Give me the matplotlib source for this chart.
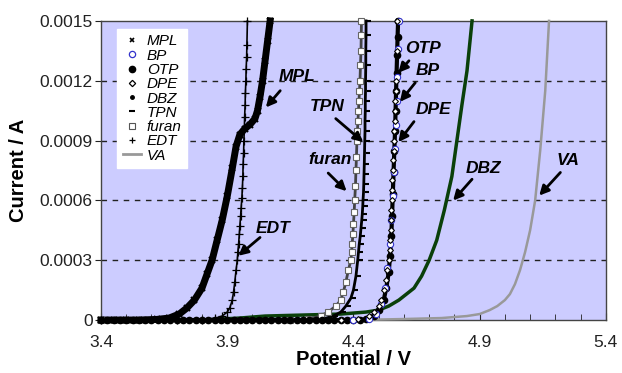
#Curvas de corriente vs potencial para los distintos monomeros

import numpy as np
import matplotlib.pyplot as plt
from matplotlib.lines import Line2D

plt.rcParams['font.family'] = ['Liberation Sans', 'DejaVu Sans']

#Datos (potencial en V, corriente en A)
vMPL = [3.40,3.45,3.50,3.55,3.62,3.67,3.71,3.74,3.77,3.80,3.82,3.84,3.86,3.88,3.90,3.92,3.935,3.95,3.97,3.99,4.01,4.02,4.03,4.04,4.05,4.06,4.07]
iMPL = [0,0,0,0,0.000003,0.00001,0.00003,0.00006,0.0001,0.00016,0.00023,0.0003,0.0004,0.0005,0.00062,0.00076,0.00087,0.00093,0.00096,0.00098,0.00101,0.00105,0.00112,0.0012,0.0013,0.0014,0.0015]

vEDT = [3.40,3.70,3.80,3.85,3.88,3.90,3.91,3.92,3.925,3.93,3.935,3.94,3.942,3.945,3.948,3.95,3.953,3.955,3.958,3.96,3.962,3.963,3.965,3.966,3.968,3.969,3.971,3.972,3.974,3.975,3.977,3.978,3.98]
iEDT = [0,0,0.000002,0.000008,0.00002,0.00004,0.00006,0.0001,0.00014,0.00019,0.00025,0.0003,0.00034,0.00038,0.00043,0.00047,0.00052,0.00056,0.00061,0.00066,0.00072,0.00078,0.00084,0.0009,0.00096,0.00102,0.00108,0.00114,0.0012,0.00126,0.00132,0.00138,0.0015]

vTPN = [3.40,4.20,4.28,4.32,4.35,4.37,4.39,4.40,4.41,4.417,4.42,4.423,4.427,4.43,4.433,4.435,4.437,4.438,4.44,4.441,4.442,4.443,4.444,4.445,4.446,4.446,4.447,4.447,4.448,4.448,4.449,4.449,4.45,4.45]
iTPN = [0,0,0.000005,0.00002,0.00004,0.00007,0.00011,0.00015,0.00022,0.0003,0.00034,0.00038,0.00042,0.00046,0.0005,0.00053,0.00057,0.0006,0.00064,0.00068,0.00073,0.00078,0.00084,0.0009,0.00095,0.001,0.00105,0.0011,0.00115,0.0012,0.00128,0.00135,0.00143,0.0015]

vFuran = [3.40,4.15,4.22,4.27,4.30,4.33,4.35,4.36,4.37,4.38,4.39,4.393,4.395,4.398,4.40,4.403,4.405,4.408,4.41,4.412,4.414,4.416,4.418,4.42,4.422,4.424,4.426,4.428,4.43,4.431,4.432]
iFuran = [0,0,0.000005,0.00002,0.00004,0.00007,0.0001,0.00014,0.00019,0.00025,0.0003,0.00034,0.00038,0.00043,0.00048,0.00054,0.0006,0.00067,0.00075,0.00082,0.0009,0.00095,0.001,0.00105,0.0011,0.00115,0.0012,0.00128,0.00135,0.00143,0.0015]

vDPE = [4.35,4.42,4.46,4.48,4.50,4.51,4.52,4.53,4.535,4.54,4.543,4.545,4.547,4.548,4.55,4.551,4.553,4.554,4.556,4.557,4.559,4.56,4.562,4.563,4.565,4.566,4.568,4.569,4.571,4.572]
iDPE = [0,0.000005,0.00002,0.00004,0.00007,0.0001,0.00015,0.0002,0.00025,0.0003,0.00035,0.0004,0.00045,0.0005,0.00055,0.0006,0.00065,0.0007,0.00075,0.0008,0.00085,0.0009,0.00095,0.001,0.00105,0.0011,0.00115,0.0012,0.00135,0.0015]

vOTP = [3.40,3.425,3.45,3.475,3.50,3.525,3.55,3.575,3.60,3.625,3.65,3.675,3.70,3.725,3.75,3.775,3.80,3.825,3.85,3.875,3.90,3.925,3.95,3.975,4.00,4.025,4.05,4.075,4.10,4.125,4.15,4.175,4.20,4.225,4.25,4.275,4.30,4.325,4.35,4.375,4.40,4.425,4.45,
        4.48,4.50,4.52,4.53,4.54,4.545,4.55,4.553,4.556,4.559,4.562,4.565,4.567,4.569,4.571,4.573,4.575,4.577]
iOTP = [0,0,0,0,0,0,0,0,0,0,0,0,0,0,0,0,0,0,0,0,0,0,0,0,0,0,0,0,0,0,0,0,0,0,0,0,0,0,0,0,0,0,0.000003,
        0.00002,0.00005,0.0001,0.00016,0.00024,0.00032,0.00042,0.00052,0.00063,0.00074,0.00085,0.00095,0.00105,0.00115,0.00124,0.00133,0.00142,0.0015]

vBP = [4.40,4.46,4.49,4.51,4.525,4.535,4.543,4.55,4.555,4.56,4.564,4.568,4.571,4.574,4.577,4.58]
iBP = [0,0.000005,0.00003,0.00008,0.00016,0.00026,0.00038,0.0005,0.00062,0.00074,0.00086,0.00098,0.0011,0.00122,0.00136,0.0015]

vDBZ = [3.40,3.80,3.95,4.05,4.20,4.35,4.45,4.50,4.54,4.58,4.61,4.64,4.67,4.70,4.73,4.76,4.79,4.81,4.83,4.85,4.87]
iDBZ = [0,0,0.00001,0.00002,0.000025,0.00003,0.00004,0.00005,0.00007,0.0001,0.00013,0.00016,0.00022,0.0003,0.0004,0.00055,0.00072,0.0009,0.00108,0.00125,0.0015]

vVA = [3.40,4.40,4.60,4.75,4.85,4.90,4.94,4.97,5.00,5.02,5.04,5.06,5.08,5.10,5.12,5.14,5.16,5.175]
iVA = [0,0,0.000005,0.00001,0.00002,0.00003,0.00005,0.00007,0.0001,0.00013,0.00018,0.00025,0.00034,0.00045,0.0006,0.00085,0.00115,0.0015]

xticks = [3.4,3.9,4.4,4.9,5.4]
yticks = [0,0.0003,0.0006,0.0009,0.0012,0.0015]
ytickLabels = ["0","0.0003","0.0006","0.0009","0.0012","0.0015"]

fig = plt.figure(figsize=(6.22,3.73),dpi=100)
ax = fig.add_axes([0.1624,0.142,0.8116,0.802])
ax.set_facecolor("#ccccff")

#Curvas
ax.plot(vVA,iVA,color="#999999",lw=1.8,clip_on=False,zorder=3)
ax.plot(vDBZ,iDBZ,color="#0a400a",lw=2.5,clip_on=False,zorder=3)
ax.plot(vFuran,iFuran,color="#444444",lw=2,clip_on=False,zorder=3)
ax.plot(vFuran,iFuran,ls="none",marker="s",ms=3.8,mfc="white",mec="#666666",mew=0.8,clip_on=False,zorder=4)
ax.plot(vTPN,iTPN,color="black",lw=2,clip_on=False,zorder=3)
ax.plot(np.array(vTPN)+0.012,iTPN,ls="none",marker="_",ms=3.5,mec="black",mew=1.5,clip_on=False,zorder=4)
ax.plot(vOTP,iOTP,color="black",lw=3,clip_on=False,zorder=3)
ax.plot(vOTP,iOTP,ls="none",marker="o",ms=4.5,mfc="black",mec="black",clip_on=False,zorder=4)
ax.plot(vBP,iBP,ls="none",marker="o",ms=4.5,mfc="white",mec="#3333cc",mew=0.8,clip_on=False,zorder=4)
ax.plot(vDPE,iDPE,ls="none",marker="D",ms=3,mfc="white",mec="black",mew=0.8,clip_on=False,zorder=5)
ax.plot(vMPL,iMPL,color="black",lw=5,clip_on=False,zorder=3)
ax.plot(vMPL,iMPL,ls="none",marker="x",ms=4.5,mec="black",mew=1.5,clip_on=False,zorder=4)
ax.plot(vEDT,iEDT,color="black",lw=1.2,clip_on=False,zorder=3)
ax.plot(vEDT,iEDT,ls="none",marker="+",ms=5.5,mec="black",mew=0.9,clip_on=False,zorder=4)

#Ejes
ax.set_xlim(3.4,5.4)
ax.set_ylim(0,0.0015)
ax.set_xticks(xticks)
ax.set_xticklabels([str(x) for x in xticks])
ax.set_xticks(np.arange(3.5,5.4,0.1),minor=True)
ax.set_yticks(yticks)
ax.set_yticklabels(ytickLabels)
ax.tick_params(axis="x",which="major",direction="in",length=5,labelsize=12.5,colors="#222222",pad=11)
ax.tick_params(axis="x",which="minor",direction="in",length=4,color="#222222")
ax.tick_params(axis="y",direction="out",length=4,labelsize=12.5,colors="#222222",pad=2)
for s in ax.spines.values():
    s.set_color("#444444")
    s.set_linewidth(1)
for y in yticks[1:-1]:
    ax.axhline(y,color="#222222",lw=1,ls=(0,(4,4)),zorder=1)

ax.set_xlabel("Potential / V",fontsize=14.5,fontweight="bold",labelpad=0)
ax.set_ylabel("Current / A",fontsize=14.5,fontweight="bold",labelpad=8)

#Etiquetas con flechas
etiquetas = [("MPL",4.175,0.001223,4.11,0.00115,4.053,0.001066),
             ("TPN",4.294,0.001072,4.33,0.00101,4.439,0.000892),
             ("furan",4.307,0.000804,4.30,0.000737,4.373,0.000646),
             ("OTP",4.676,0.001362,4.62,0.0013,4.578,0.00124),
             ("BP",4.696,0.001253,4.645,0.00119,4.584,0.001094),
             ("DPE",4.719,0.001055,4.64,0.000995,4.578,0.000892),
             ("DBZ",4.914,0.000758,4.87,0.000706,4.795,0.000599),
             ("VA",5.251,0.0008,5.22,0.00074,5.136,0.000624),
             ("EDT",4.082,0.000457,4.03,0.000414,3.944,0.000322)]
for nombre,xt,yt,xa,ya,xp,yp in etiquetas:
    ax.text(xt,yt,nombre,fontsize=12.5,fontweight="bold",fontstyle="italic",ha="center",va="center",zorder=6)
    ax.annotate("",xy=(xp,yp),xytext=(xa,ya),
                arrowprops=dict(arrowstyle="-|>",color="black",lw=2,mutation_scale=14,shrinkA=0,shrinkB=0),zorder=6)

#Leyenda
handles = [Line2D([],[],ls="none",marker="x",ms=3.5,mec="black",mew=1.2),
           Line2D([],[],ls="none",marker="o",ms=4.5,mfc="white",mec="#3333cc",mew=0.9),
           Line2D([],[],ls="none",marker="o",ms=4.5,mfc="black",mec="black"),
           Line2D([],[],ls="none",marker="D",ms=3.2,mfc="white",mec="black",mew=0.9),
           Line2D([],[],ls="none",marker=".",ms=5,mfc="black",mec="black"),
           Line2D([],[],ls="none",marker="_",ms=4,mec="black",mew=1.5),
           Line2D([],[],ls="none",marker="s",ms=3.8,mfc="white",mec="#555555",mew=0.8),
           Line2D([],[],ls="none",marker="+",ms=5,mec="black",mew=0.9),
           Line2D([],[],color="#999999",lw=2)]
nombres = ["MPL","BP","OTP","DPE","DBZ","TPN","furan","EDT","VA"]
leg = ax.legend(handles,nombres,loc="upper left",bbox_to_anchor=(0.032,0.973),borderaxespad=0,
                prop={"size":11,"style":"italic"},labelspacing=0.02,handlelength=1.2,
                handletextpad=0.4,borderpad=0.35,frameon=True,fancybox=False)
leg.get_frame().set_facecolor("white")
leg.get_frame().set_edgecolor("white")
leg.get_frame().set_alpha(1)
leg.set_zorder(7)

plt.savefig("out.png",dpi=100)
